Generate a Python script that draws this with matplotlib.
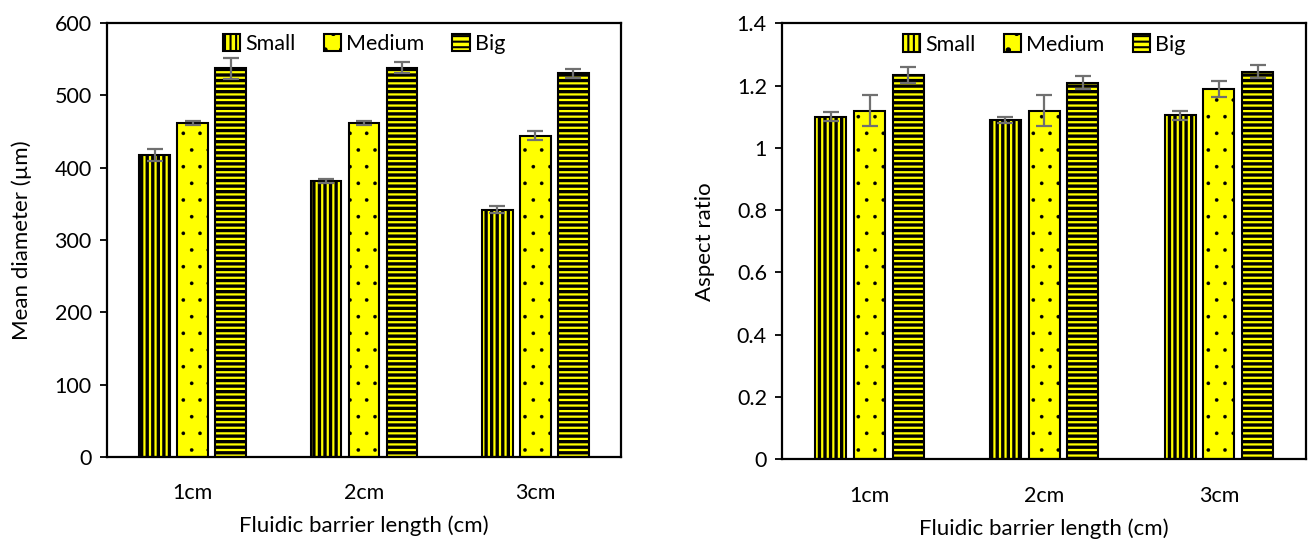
import numpy as np
import matplotlib
matplotlib.use("Agg")
import matplotlib.pyplot as plt
from matplotlib.ticker import FuncFormatter

plt.rcParams['font.family'] = ['Lato', 'DejaVu Sans']

# données
categories = ["1cm", "2cm", "3cm"]
series = ["Small", "Medium", "Big"]

diam_small = [417, 381, 342]
diam_medium = [462, 462, 444]
diam_big = [537, 538, 530]
diam_small_err = [8, 3, 5]
diam_medium_err = [3, 3, 6]
diam_big_err = [15, 8, 6]

ar_small = [1.10, 1.09, 1.105]
ar_medium = [1.12, 1.12, 1.19]
ar_big = [1.235, 1.21, 1.245]
ar_small_err = [0.015, 0.01, 0.015]
ar_medium_err = [0.05, 0.05, 0.025]
ar_big_err = [0.025, 0.02, 0.022]

hatches = ["|||", ".", "---"]
yellow = "#ffff00"

fig = plt.figure(figsize=(13.08, 5.44), dpi=100)
ax1 = fig.add_axes([0.0818, 0.160, 0.393, 0.798])
ax2 = fig.add_axes([0.598, 0.156, 0.4006, 0.801])


def draw(ax, vals, errs, ylim, yticks, ylabel, fmt):
    x = np.arange(len(categories))
    step = 0.222
    width = 0.178
    for i, (v, e) in enumerate(zip(vals, errs)):
        pos = x + (i - 1) * step
        with plt.rc_context({'hatch.linewidth': 2.4 if i != 1 else 0.2}):
            ax.bar(pos, v, width, color=yellow, edgecolor="black",
                   linewidth=1.5, hatch=hatches[i], label=series[i], zorder=2)
        ax.errorbar(pos, v, yerr=e, fmt="none", ecolor="#707070",
                    elinewidth=1.6, capsize=5.5, capthick=1.6, zorder=3)
    ax.set_xlim(-0.5, len(categories) - 0.5)
    ax.set_ylim(*ylim)
    ax.set_yticks(yticks)
    ax.yaxis.set_major_formatter(FuncFormatter(fmt))
    ax.set_xticks(x)
    ax.set_xticklabels(categories)
    ax.tick_params(axis="x", length=0, pad=19, labelsize=15.5)
    ax.tick_params(axis="y", length=5, width=1.3, direction="out", pad=6, labelsize=15.5)
    for s in ax.spines.values():
        s.set_linewidth(1.6)
    ax.set_xlabel("Fluidic barrier length (cm)", fontsize=16, labelpad=9)
    ax.set_ylabel(ylabel, fontsize=16, labelpad=16)
    with plt.rc_context({'hatch.linewidth': 1.5}):
        ax.legend(loc="upper center", ncol=3, frameon=False, fontsize=15.5,
                  handlelength=0.8, handleheight=0.9, handletextpad=0.25,
                  columnspacing=1.3, borderaxespad=0.1)


draw(ax1, [diam_small, diam_medium, diam_big],
     [diam_small_err, diam_medium_err, diam_big_err],
     (0, 600), np.arange(0, 601, 100), "Mean diameter (µm)",
     lambda v, p: f"{v:.0f}")
draw(ax2, [ar_small, ar_medium, ar_big],
     [ar_small_err, ar_medium_err, ar_big_err],
     (0, 1.4), np.arange(0, 1.41, 0.2), "Aspect ratio",
     lambda v, p: f"{v:g}" if abs(v) > 1e-9 else "0")

plt.savefig("out.png", dpi=100)
